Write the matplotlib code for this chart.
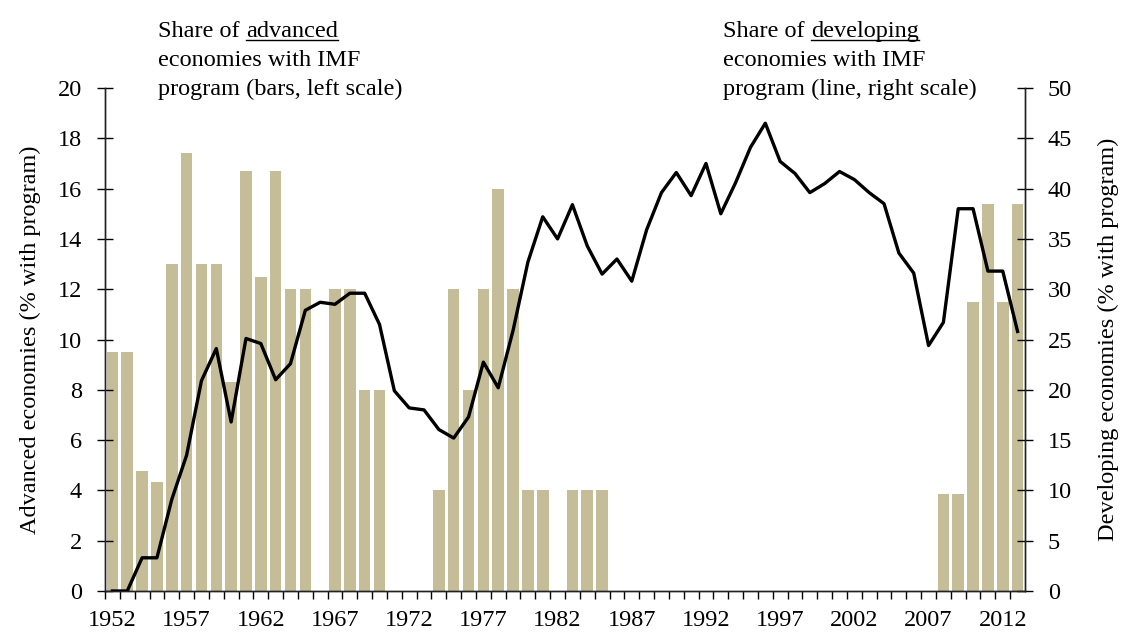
import matplotlib.pyplot as plt
import numpy as np
from matplotlib.lines import Line2D

plt.rcParams['font.family'] = ['Liberation Serif', 'DejaVu Serif']

years = np.arange(1952, 2014)

# share of advanced economies with IMF program (left scale, bars)
advanced = [9.5, 9.5, 4.76, 4.35, 13.0, 17.4, 13.0, 13.0, 8.3, 16.7,
            12.5, 16.7, 12.0, 12.0, 0, 12.0, 12.0, 8.0, 8.0, 0,
            0, 0, 4.0, 12.0, 8.0, 12.0, 16.0, 12.0, 4.0, 4.0,
            0, 4.0, 4.0, 4.0] + [0] * 22 + [3.85, 3.85, 11.5, 15.4, 11.5, 15.4]

# share of developing economies with IMF program (right scale, line)
developing = [0, 0, 3.3, 3.3, 9.1, 13.5, 20.9, 24.1, 16.8, 25.1,
              24.6, 21.0, 22.6, 27.9, 28.7, 28.5, 29.6, 29.6, 26.5, 19.9,
              18.2, 18.0, 16.05, 15.2, 17.3, 22.75, 20.2, 25.9, 32.7, 37.2,
              35.0, 38.4, 34.3, 31.5, 33.0, 30.8, 35.9, 39.6, 41.6, 39.3,
              42.5, 37.5, 40.6, 44.1, 46.5, 42.7, 41.5, 39.6, 40.5, 41.7,
              40.9, 39.6, 38.5, 33.6, 31.6, 24.4, 26.7, 38.0, 38.0, 31.8,
              31.8, 25.8]

W, H = 1122, 633
FS = 17.5
fig = plt.figure(figsize=(W / 100, H / 100), dpi=100)
ax = fig.add_axes([105 / W, 42 / H, 920 / W, 503 / H])
ax2 = ax.twinx()

idx = np.arange(len(years))
ax.bar(idx, advanced, width=0.78, color='#C4BD97', zorder=1)
ax2.plot(idx, developing, color='black', lw=2.4, zorder=3)

ax.set_xlim(-0.5, len(years) - 0.5)
ax.set_ylim(0, 20)
ax2.set_ylim(0, 50)
ax.set_yticks(np.arange(0, 21, 2))
ax2.set_yticks(np.arange(0, 51, 5))

ax.set_xticks(idx - 0.5, minor=True)
ax.set_xticks(idx[::5])
ax.set_xticklabels([str(y) for y in years[::5]])
ax.tick_params(axis='x', which='major', length=0, pad=14, labelsize=FS)
ax.tick_params(axis='x', which='minor', length=6, width=1, direction='out')
ax.tick_params(axis='y', direction='inout', length=11, width=1, labelsize=FS, pad=11)
ax2.tick_params(axis='y', direction='inout', length=11, width=1, labelsize=FS, pad=11)

for a in (ax, ax2):
    a.spines['top'].set_visible(False)
    for s in ('left', 'right', 'bottom'):
        a.spines[s].set_linewidth(1)
        a.spines[s].set_color('#222222')

ax.set_zorder(ax2.get_zorder() - 1)
ax2.patch.set_visible(False)

ax.set_ylabel('Advanced economies (% with program)', fontsize=FS, labelpad=12)
ax2.set_ylabel('Developing economies (% with program)', fontsize=FS, labelpad=18)

renderer = fig.canvas.get_renderer()


def note(x, word, rest):
    t1 = fig.text(x / W, 1 - 37 / H, 'Share of ', fontsize=FS, va='baseline')
    bb = t1.get_window_extent(renderer)
    t2 = fig.text(bb.x1 / W, 1 - 37 / H, word, fontsize=FS, va='baseline')
    bb2 = t2.get_window_extent(renderer)
    fig.add_artist(Line2D([bb.x1 / W, bb2.x1 / W], [1 - 40 / H, 1 - 40 / H],
                          transform=fig.transFigure, color='black', lw=1))
    for i, line in enumerate(rest):
        fig.text(x / W, 1 - (66 + 29 * i) / H, line, fontsize=FS, va='baseline')


note(158, 'advanced', ['economies with IMF', 'program (bars, left scale)'])
note(723, 'developing', ['economies with IMF', 'program (line, right scale)'])

fig.savefig('out.png', dpi=100)
